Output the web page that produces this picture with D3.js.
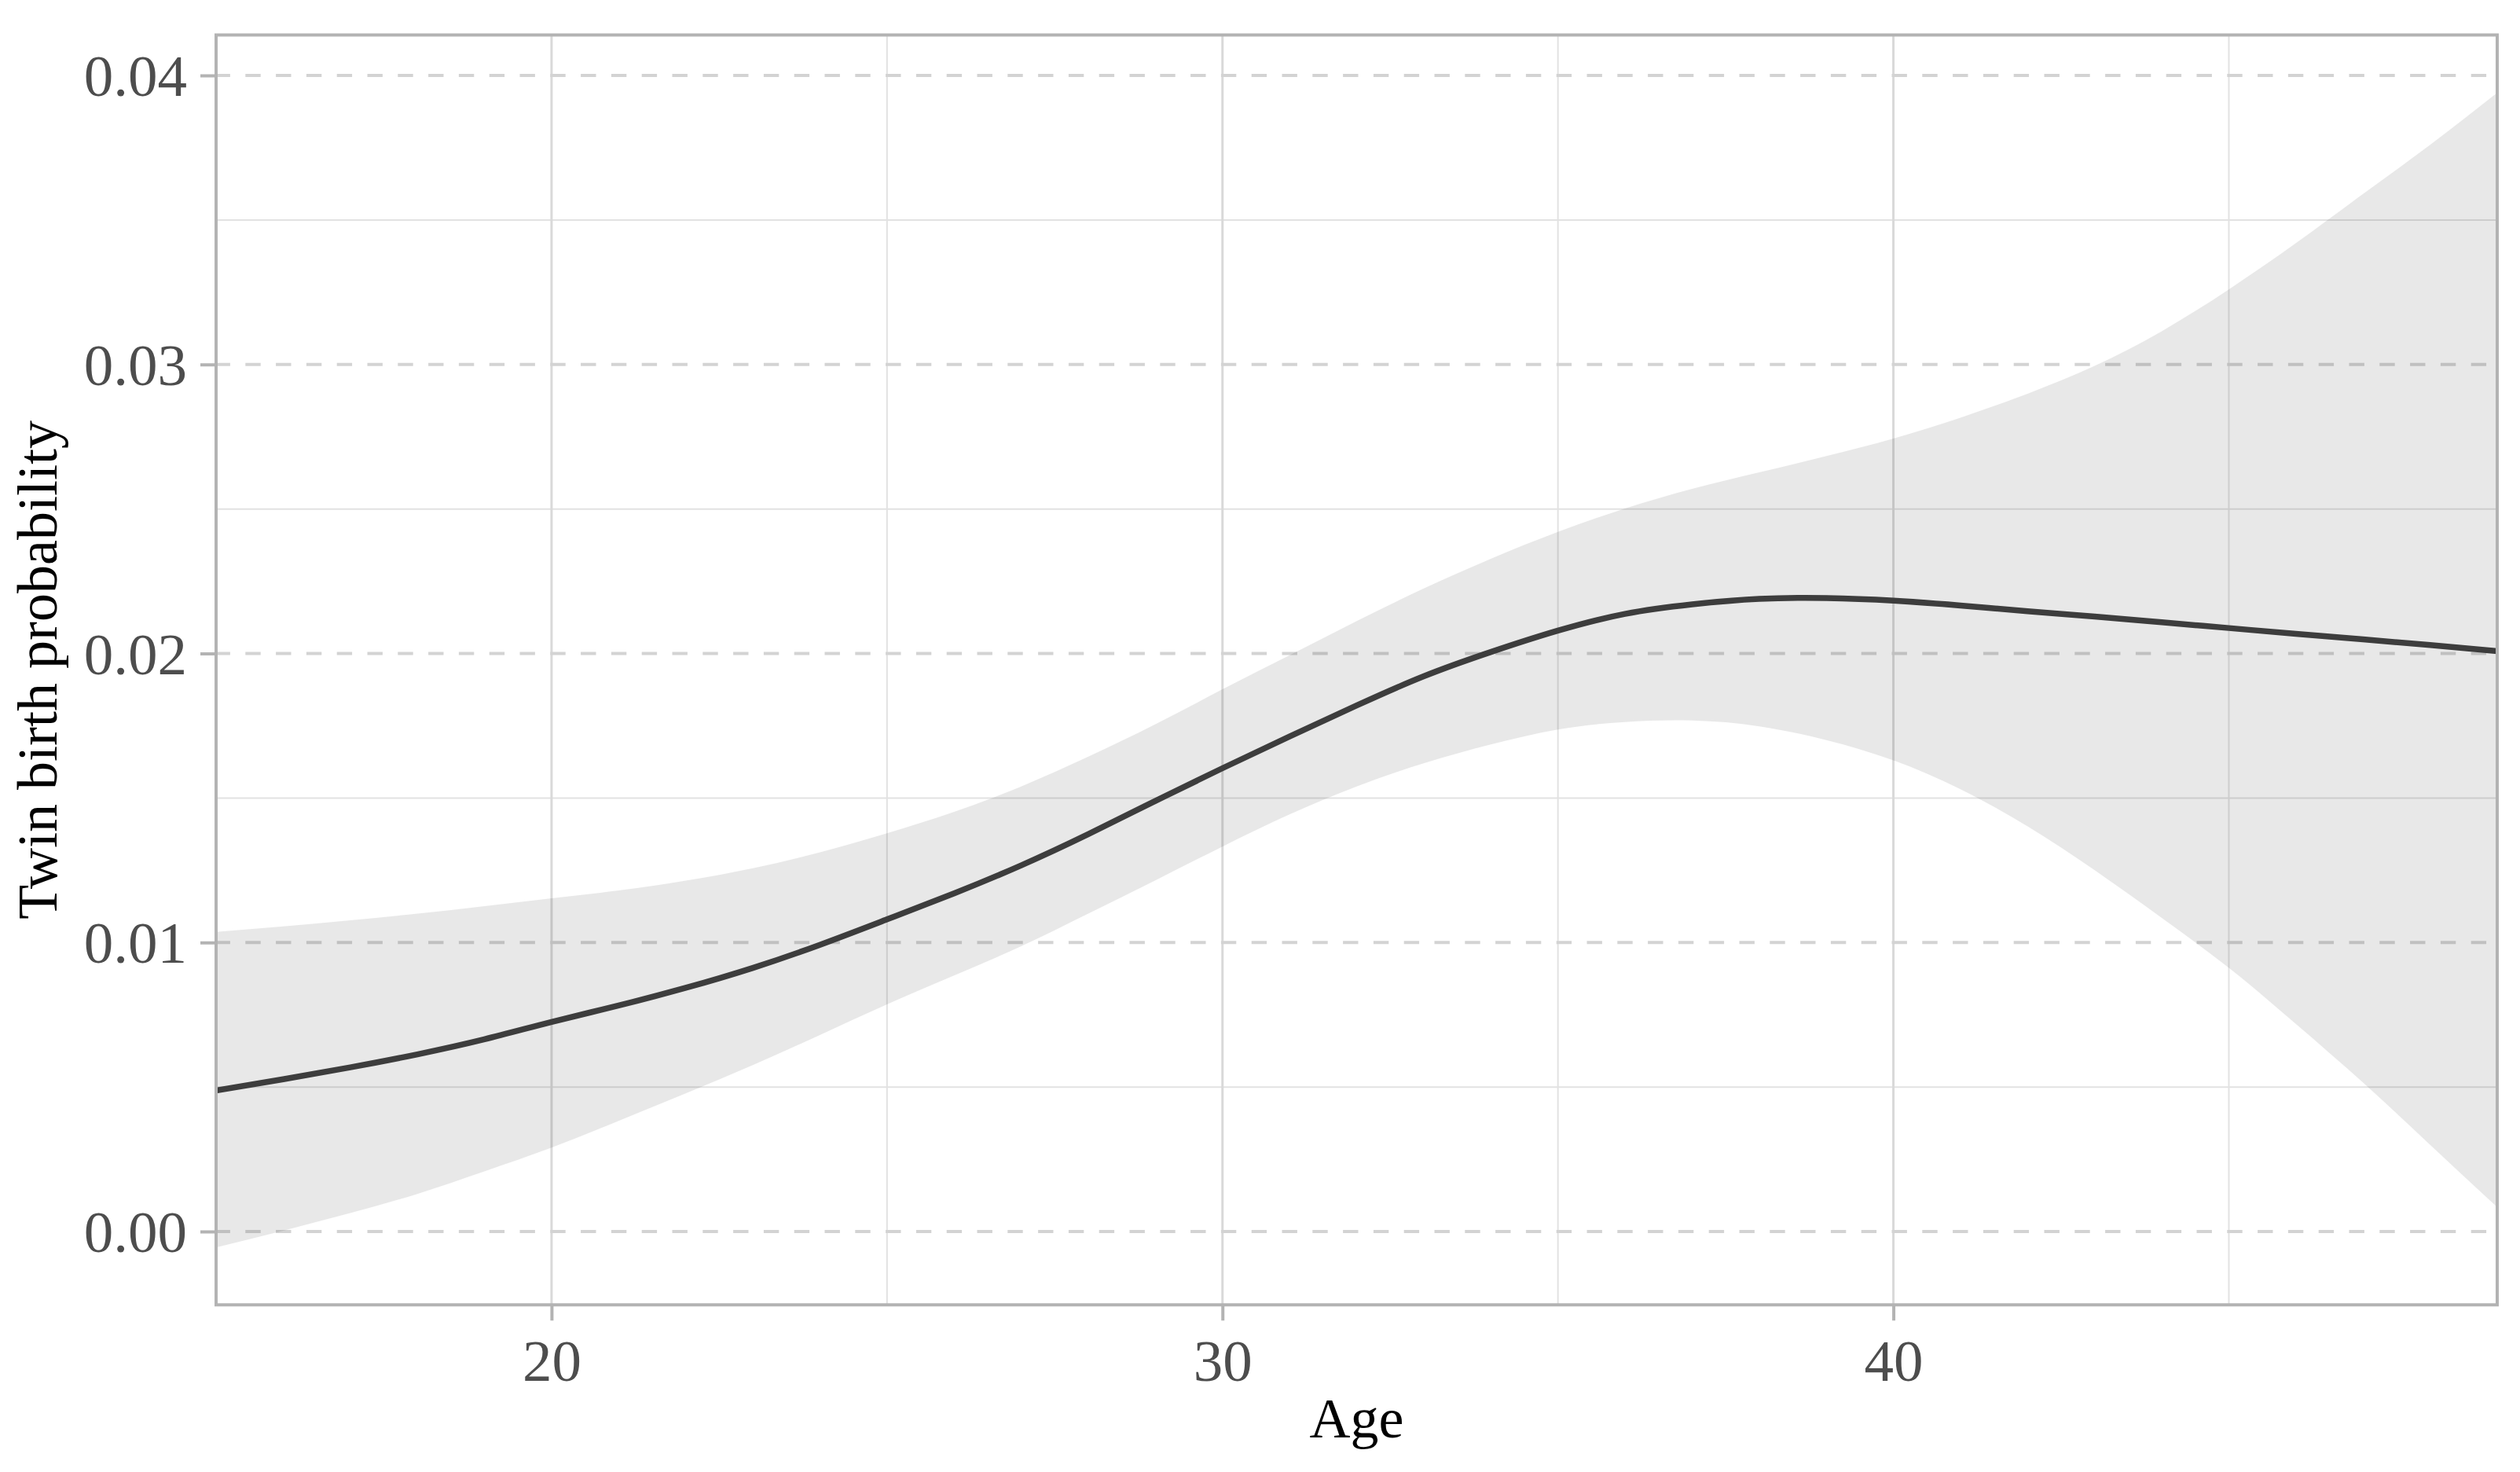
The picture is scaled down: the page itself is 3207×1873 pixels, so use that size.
<!DOCTYPE html>
<html>
<head>
<meta charset="utf-8">
<script src="https://cdn.jsdelivr.net/npm/d3@7"></script>
<style>
  html, body { margin: 0; padding: 0; background: #ffffff; }
  svg { display: block; }
</style>
</head>
<body>
<svg id="chart" width="3207" height="1873"></svg>
<script>
// ---- data ----
const ages = [15,16,17,18,19,20,21,22,23,24,25,26,27,28,29,30,31,32,33,34,35,36,37,38,39,40,41,42,43,44,45,46,47,48,49];
const fit = [0.00488,0.00527,0.00568,0.00613,0.00665,0.00725,0.00782,0.00843,0.00912,0.00992,
             0.01080,0.01170,0.01267,0.01375,0.01490,0.01603,0.01713,0.01820,0.01921,0.02005,
             0.02079,0.02137,0.02170,0.02189,0.02192,0.02183,0.02166,0.02146,0.02128,0.02108,
             0.02088,0.02068,0.02049,0.02029,0.02008];
const lower = [-0.00055,0.00003,0.00064,0.00130,0.00208,0.00290,0.00383,0.00478,0.00576,0.00680,
               0.00786,0.00886,0.00987,0.01100,0.01215,0.01332,0.01443,0.01540,0.01620,0.01685,
               0.01737,0.01763,0.01768,0.01748,0.01700,0.01630,0.01530,0.01402,0.01250,0.01085,
               0.00912,0.00718,0.00515,0.00300,0.00084];
const upper = [0.01037,0.01056,0.01077,0.01100,0.01126,0.01153,0.01180,0.01214,0.01257,0.01312,
               0.01378,0.01452,0.01540,0.01643,0.01755,0.01876,0.01994,0.02112,0.02225,0.02328,
               0.02421,0.02502,0.02570,0.02627,0.02683,0.02744,0.02816,0.02899,0.02995,0.03115,
               0.03260,0.03420,0.03590,0.03760,0.03940];
const xTicks = [20, 30, 40];
const xMinor = [25, 35, 45];
const yTicks = [0.00, 0.01, 0.02, 0.03, 0.04];
const yMinor = [0.005, 0.015, 0.025, 0.035];
const xTitle = "Age";
const yTitle = "Twin birth probability";

// ---- layout ----
const panel = { left: 275, right: 3178, top: 44.5, bottom: 1660.3 };
const x = d3.scaleLinear().domain([15, 49]).range([panel.left, panel.right]);
const y = d3.scaleLinear().domain([0, 0.04]).range([1567, 96]);

const svg = d3.select("#chart");
const font = "'Liberation Serif', 'Times New Roman', serif";

svg.append("rect").attr("width", 3207).attr("height", 1873).attr("fill", "#ffffff");

svg.append("defs").append("clipPath").attr("id", "clip")
  .append("rect")
  .attr("x", panel.left).attr("y", panel.top)
  .attr("width", panel.right - panel.left).attr("height", panel.bottom - panel.top);

const grid = svg.append("g");
// minor grid
grid.selectAll(".vminor").data(xMinor).join("line")
  .attr("x1", d => x(d)).attr("x2", d => x(d))
  .attr("y1", panel.top).attr("y2", panel.bottom)
  .attr("stroke", "#e2e2e2").attr("stroke-width", 2);
grid.selectAll(".hminor").data(yMinor).join("line")
  .attr("x1", panel.left).attr("x2", panel.right)
  .attr("y1", d => y(d)).attr("y2", d => y(d))
  .attr("stroke", "#e2e2e2").attr("stroke-width", 2);
// major grid
grid.selectAll(".vmajor").data(xTicks).join("line")
  .attr("x1", d => x(d)).attr("x2", d => x(d))
  .attr("y1", panel.top).attr("y2", panel.bottom)
  .attr("stroke", "#d9d9d9").attr("stroke-width", 3);
grid.selectAll(".hmajor").data(yTicks).join("line")
  .attr("x1", panel.left - 1.5).attr("x2", panel.right)
  .attr("y1", d => y(d)).attr("y2", d => y(d))
  .attr("stroke", "#d3d3d3").attr("stroke-width", 4)
  .attr("stroke-dasharray", "19.4,19.4");

const rows = ages.map((a, i) => ({ age: a, fit: fit[i], lo: lower[i], hi: upper[i] }));
const plot = svg.append("g").attr("clip-path", "url(#clip)");

plot.append("path").datum(rows)
  .attr("d", d3.area().x(d => x(d.age)).y0(d => y(d.lo)).y1(d => y(d.hi)).curve(d3.curveNatural))
  .attr("fill", "#000000").attr("fill-opacity", 0.09);

plot.append("path").datum(rows)
  .attr("d", d3.line().x(d => x(d.age)).y(d => y(d.fit)).curve(d3.curveNatural))
  .attr("fill", "none").attr("stroke", "#3d3d3d").attr("stroke-width", 7.5)
  .attr("stroke-linejoin", "round");

// panel border
svg.append("rect")
  .attr("x", panel.left).attr("y", panel.top)
  .attr("width", panel.right - panel.left).attr("height", panel.bottom - panel.top)
  .attr("fill", "none").attr("stroke", "#b3b3b3").attr("stroke-width", 4);

// axes
const xAxis = d3.axisBottom(x).tickValues(xTicks).tickSize(20).tickPadding(23)
  .tickFormat(d3.format("d"));
const gx = svg.append("g").attr("transform", `translate(0,${panel.bottom})`).call(xAxis);
gx.select(".domain").remove();
gx.selectAll(".tick line").attr("stroke", "#b3b3b3").attr("stroke-width", 4);
gx.selectAll(".tick text").attr("fill", "#4d4d4d").attr("font-family", font)
  .attr("font-size", 75).attr("dy", "0.71em");

const yAxis = d3.axisLeft(y).tickValues(yTicks).tickSize(20).tickPadding(17)
  .tickFormat(d3.format(".2f"));
const gy = svg.append("g").attr("transform", `translate(${panel.left},0)`).call(yAxis);
gy.select(".domain").remove();
gy.selectAll(".tick line").attr("stroke", "#b3b3b3").attr("stroke-width", 4);
gy.selectAll(".tick text").attr("fill", "#4d4d4d").attr("font-family", font)
  .attr("font-size", 75).attr("dy", "0.34em");

// titles
svg.append("text")
  .attr("x", (panel.left + panel.right) / 2).attr("y", 1829)
  .attr("text-anchor", "middle").attr("font-family", font).attr("font-size", 72)
  .attr("fill", "#000000").text(xTitle);

svg.append("text")
  .attr("transform", `translate(72,${(panel.top + panel.bottom) / 2}) rotate(-90)`)
  .attr("text-anchor", "middle").attr("font-family", font).attr("font-size", 72)
  .attr("fill", "#000000").text(yTitle);
</script>
</body>
</html>
